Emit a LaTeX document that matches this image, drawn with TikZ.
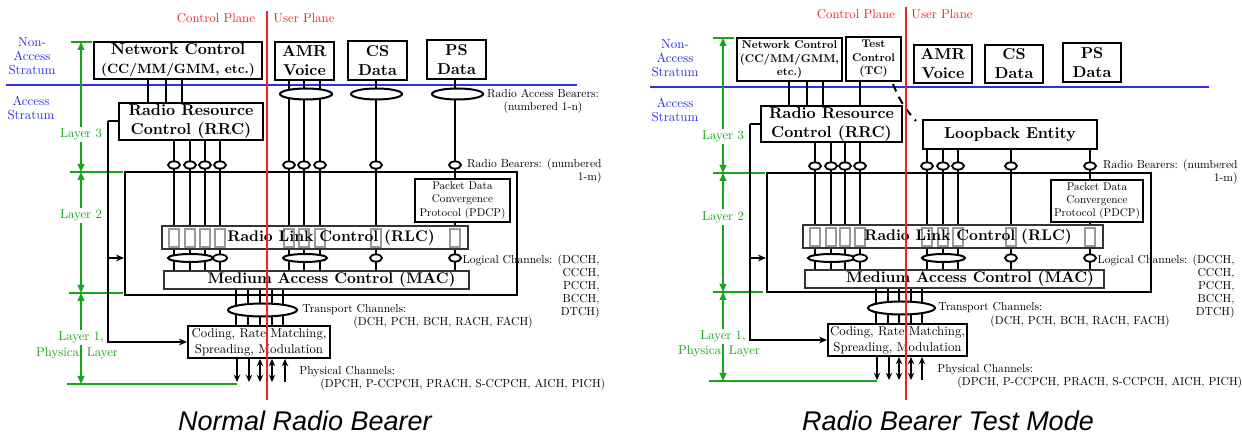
\documentclass[tikz,border=0pt]{standalone}
\usepackage{fontspec}
\setmainfont{lmroman10}[Extension=.otf, UprightFont=*-regular, BoldFont=*-bold,
  ItalicFont=*-italic, BoldItalicFont=*-bolditalic]
\newfontfamily\captionfont{Liberation Sans}
\usetikzlibrary{arrows.meta,shapes.geometric}
\definecolor{layergreen}{RGB}{25,165,25}
\definecolor{stratblue}{RGB}{45,45,235}
\definecolor{planered}{RGB}{235,35,35}
\newcommand{\fsz}[2]{\fontsize{#1}{#2}\selectfont}
\tikzset{
  blk/.style={draw, line width=1pt, fill=white, inner sep=0pt, align=center,
    font=\fsz{7.9}{9.5}\bfseries},
  tcblk/.style={blk, font=\fsz{5.6}{6.8}\bfseries},
  pdcpblk/.style={blk, font=\fsz{5.6}{6.7}},
  codblk/.style={blk, font=\fsz{6.4}{8}},
  sublyr/.style={draw=black!80, line width=0.6pt, fill=white, inner sep=0pt},
  sublbl/.style={inner sep=0pt, font=\fsz{7.7}{9}\bfseries},
  ent/.style={draw=black!40, line width=0.6pt, minimum width=5pt,
    minimum height=9pt, inner sep=0pt},
  chan/.style={line width=1pt},
  rab/.style={ellipse, draw, line width=1pt, fill=white, inner sep=0pt,
    minimum height=5.5pt},
  rbo/.style={ellipse, draw, line width=0.9pt, fill=white, inner sep=0pt,
    minimum width=6pt, minimum height=3.6pt},
  note/.style={inner sep=0pt, font=\fsz{5.8}{6.5}},
  strat/.style={text=stratblue, inner sep=0pt, align=center, font=\fsz{6.5}{7}},
  plane/.style={text=planered, inner sep=0pt, font=\fsz{6.4}{7}},
  lyr/.style={layergreen, line width=0.7pt},
  lyrarr/.style={lyr, {Triangle[length=4pt,width=3.4pt]}-{Triangle[length=4pt,width=3.4pt]}},
  lyrlbl/.style={text=layergreen, fill=white, inner sep=1pt, font=\fsz{6.4}{7.5}},
  lyrtxt/.style={text=layergreen, inner sep=0pt, font=\fsz{6.4}{7.5}},
  feed/.style={line width=1pt, -{Stealth[length=4pt,width=3.4pt]}},
  capt/.style={inner sep=0pt, font=\captionfont\itshape\fsz{13.5}{16}}
}

\begin{document}
\begin{tikzpicture}[x=0.5pt,y=-0.5pt,>={Stealth[length=3.6pt,width=3.2pt]}]
  \useasboundingbox (0,0) rectangle (1242,437);

  % ---------- Normal Radio Bearer ----------
  \draw[stratblue, line width=0.8pt] (6,85) -- (577,85);
  \node[strat] (nasL) at (32,56) {Non-\\Access\\Stratum};
  \node[strat] (asL) at (31,108) {Access\\Stratum};
  \node[plane] (cpL) at (216,18) {Control Plane};
  \node[plane] (upL) at (304,18) {User Plane};

  % layers
  \draw[lyr] (71,42) -- (92,42) (70,172) -- (123,172) (69,293) -- (123,293) (67,384) -- (237,384);
  \draw[lyrarr] (81,42) -- node[lyrlbl, pos=0.71] (lay3L) {Layer 3} (81,172);
  \draw[lyrarr] (81,172) -- node[lyrlbl, pos=0.36] (lay2L) {Layer 2} (81,293);
  \draw[lyrarr] (81,293) -- node[lyrlbl, pos=0.49] (lay1L) {Layer 1,} (81,384);
  \node[lyrtxt] (physL) at (77,353) {Physical Layer};

  % boxes
  \node[blk, minimum width=84pt, minimum height=18.5pt] (ncL) at (178,60.5) {Network Control\\\fsz{6.7}{9.5}\bfseries(CC/MM/GMM, etc.)};
  \node[blk, minimum width=29.5pt, minimum height=19pt] (amrL) at (304.5,61) {AMR\\Voice};
  \node[blk, minimum width=29.5pt, minimum height=19.5pt] (csL) at (377.5,60.5) {CS\\Data};
  \node[blk, minimum width=29.5pt, minimum height=19.5pt] (psL) at (456.5,59.5) {PS\\Data};
  \node[blk, minimum width=72pt, minimum height=18.5pt] (rrcL) at (191,121.5) {Radio Resource\\Control (RRC)};
  \node[blk, minimum width=196pt, minimum height=61.5pt] (l2L) at (321,233.5) {};
  \node[pdcpblk, minimum width=47.5pt, minimum height=21.5pt] (pdcpL) at (462.5,200.5) {Packet Data\\Convergence\\Protocol (PDCP)};
  \node[sublyr, minimum width=153pt, minimum height=11.5pt] (rlcL) at (315,237.5) {};
  \node[sublyr, minimum width=152.5pt, minimum height=9pt] (macL) at (316.5,280) {};
  \node[codblk, minimum width=71pt, minimum height=16pt] (codL) at (259,342) {Coding, Rate Matching,\\Spreading, Modulation};

  % channels
  \foreach \x in {148,166,182} \draw[chan] (ncL.south -| \x,0) -- (rrcL.north -| \x,0);
  \foreach \x in {174,190,205,220} \draw[chan] (rrcL.south -| \x,0) -- (rlcL.north -| \x,0);
  \foreach \x in {289,304,320} \draw[chan] (amrL.south -| \x,0) -- (rlcL.north -| \x,0);
  \draw[chan] (csL.south -| 376,0) -- (rlcL.north -| 376,0);
  \draw[chan] (psL.south -| 455,0) -- (pdcpL.north -| 455,0);
  \draw[chan] (pdcpL.south -| 455,0) -- (rlcL.north -| 455,0);
  \foreach \x in {174,190,205,220,289,304,320,376,455} \draw[chan] (rlcL.south -| \x,0) -- (macL.north -| \x,0);
  \foreach \x in {236,248,260,272,283} \draw[chan] (macL.south -| \x,0) -- (codL.north -| \x,0);

  % RLC entities
  \foreach \x in {174,190,205,220,289,304,320,376,455} \node[ent] (entL\x) at (\x,238) {};
  \node[sublbl] (rlcTxtL) at (331,237.5) {Radio Link Control (RLC)};
  \node[sublbl] (macTxtL) at (331.5,280) {Medium Access Control (MAC)};

  % bearers and channels
  \node[rab, minimum width=26pt] (rabAmrL) at (306,94) {};
  \node[rab, minimum width=25.5pt] (rabCsL) at (376.5,94) {};
  \node[rab, minimum width=25.5pt] (rabPsL) at (457.5,94) {};
  \foreach \x in {174,190,205,220,289,304,320,376,455} \node[rbo] (rbL\x) at (\x,165) {};
  \node[rab, minimum width=22.5pt, minimum height=4pt] (lgcL) at (190.5,258) {};
  \node[rbo, minimum width=7pt] (lgL220) at (220,258) {};
  \node[rab, minimum width=22pt, minimum height=4pt] (lguL) at (305,258) {};
  \node[rbo] (lgL376) at (376,258) {};
  \node[rbo] (lgL455) at (455,258) {};
  \node[rab, minimum width=34.5pt, minimum height=6.5pt] (trL) at (262.5,310) {};

  % control feed
  \draw[chan] (rrcL.west) -- ++(-10,0) coordinate (fdL);
  \draw[feed] (fdL) |- (codL.west);
  \draw[feed] (fdL |- 0,258) -- (l2L.west |- 0,258);

  % physical channels
  \coordinate (phyL) at (0,382);
  \draw[chan, ->] (codL.south -| 237,0) -- (phyL -| 237,0);
  \draw[chan, ->] (codL.south -| 249,0) -- (phyL -| 249,0);
  \draw[chan, <->] (codL.south -| 260,0) -- (phyL -| 260,0);
  \draw[chan, <->] (codL.south -| 272,0) -- (phyL -| 272,0);
  \draw[chan, <-] (codL.south -| 285,0) -- (phyL -| 285,0);

  % notes
  \node[note, align=center] (rabTxtL) at (543,101) {Radio Access Bearers:\\(numbered 1-n)};
  \node[note, align=right, anchor=east] (rbTxtL) at (602,171.5) {Radio Bearers: (numbered\\1-m)};
  \node[note, align=right, anchor=north east] (lchTxtL) at (600,254) {Logical Channels: (DCCH,\\CCCH,\\PCCH,\\BCCH,\\DTCH)};
  \node[note, anchor=west] (tchTxtL) at (302,310) {Transport Channels:};
  \node[note, anchor=west] (tchLstL) at (353,323) {(DCH, PCH, BCH, RACH, FACH)};
  \node[note, anchor=west] (phyTxtL) at (299,372) {Physical Channels:};
  \node[note, anchor=west] (phyLstL) at (320,385) {(DPCH, P-CCPCH, PRACH, S-CCPCH, AICH, PICH)};

  \draw[planered, line width=0.6pt] (267,11) -- (267,400);
  \node[capt] (capL) at (305,421) {Normal Radio Bearer};

  % ---------- Radio Bearer Test Mode ----------
  \draw[stratblue, line width=0.8pt] (650,87) -- (1209,87);
  \node[strat] (nasR) at (675,58) {Non-\\Access\\Stratum};
  \node[strat] (asR) at (675,110) {Access\\Stratum};
  \node[plane] (cpR) at (856,14) {Control Plane};
  \node[plane] (upR) at (942,14) {User Plane};

  % layers
  \draw[lyr] (713,38) -- (734,38) (713,173) -- (765,173) (713,292) -- (763,292) (709,381) -- (877,381);
  \draw[lyrarr] (723,38) -- node[lyrlbl, pos=0.73] (lay3R) {Layer 3} (723,173);
  \draw[lyrarr] (723,173) -- node[lyrlbl, pos=0.37] (lay2R) {Layer 2} (723,292);
  \draw[lyrarr] (723,292) -- node[lyrlbl, pos=0.5] (lay1R) {Layer 1,} (723,381);
  \node[lyrtxt] (physR) at (719,351) {Physical Layer};

  % boxes
  \node[tcblk, minimum width=52.5pt, minimum height=21.5pt] (ncR) at (789.5,59.5) {Network Control\\(CC/MM/GMM,\\etc.)};
  \node[tcblk, minimum width=27.5pt, minimum height=22pt] (tcR) at (873.5,59) {Test\\Control\\(TC)};
  \node[blk, minimum width=29pt, minimum height=19pt] (amrR) at (943,64) {AMR\\Voice};
  \node[blk, minimum width=29pt, minimum height=19pt] (csR) at (1014,64) {CS\\Data};
  \node[blk, minimum width=29pt, minimum height=19.5pt] (psR) at (1092,62.5) {PS\\Data};
  \node[blk, minimum width=70.5pt, minimum height=18pt] (rrcR) at (831.5,124) {Radio Resource\\Control (RRC)};
  \node[blk, minimum width=87pt, minimum height=14.5pt] (lbR) at (1010,134.5) {Loopback Entity};
  \node[blk, minimum width=192pt, minimum height=59.5pt] (l2R) at (959,232.5) {};
  \node[pdcpblk, minimum width=46pt, minimum height=21pt] (pdcpR) at (1097,201) {Packet Data\\Convergence\\Protocol (PDCP)};
  \node[sublyr, minimum width=150pt, minimum height=11.5pt] (rlcR) at (953,236.5) {};
  \node[sublyr, minimum width=149.5pt, minimum height=9pt] (macR) at (954.5,279) {};
  \node[codblk, minimum width=69.5pt, minimum height=16pt] (codR) at (897.5,340) {Coding, Rate Matching,\\Spreading, Modulation};

  % channels
  \foreach \x in {789,807,823} \draw[chan] (ncR.south -| \x,0) -- (rrcR.north -| \x,0);
  \draw[chan] (tcR.south -| 860,0) -- (rrcR.north -| 860,0);
  \draw[chan, dash pattern=on 4pt off 3pt] ([xshift=-4.5pt,yshift=-1pt]tcR.south east) to[bend right=10] ([xshift=-3pt,yshift=-1pt]lbR.north west);
  \foreach \x in {815,831,845,860} \draw[chan] (rrcR.south -| \x,0) -- (rlcR.north -| \x,0);
  \foreach \x in {927,943,958,1011} \draw[chan] (lbR.south -| \x,0) -- (rlcR.north -| \x,0);
  \draw[chan] (lbR.south -| 1090,0) -- (pdcpR.north -| 1090,0);
  \draw[chan] (pdcpR.south -| 1090,0) -- (rlcR.north -| 1090,0);
  \foreach \x in {815,831,845,860,927,943,958,1011,1090} \draw[chan] (rlcR.south -| \x,0) -- (macR.north -| \x,0);
  \foreach \x in {876,888,899,911,922} \draw[chan] (macR.south -| \x,0) -- (codR.north -| \x,0);

  % RLC entities
  \foreach \x in {815,831,845,860,927,943,958,1011,1090} \node[ent] (entR\x) at (\x,237) {};
  \node[sublbl] (rlcTxtR) at (968,236.5) {Radio Link Control (RLC)};
  \node[sublbl] (macTxtR) at (970,279) {Medium Access Control (MAC)};

  % bearers and channels
  \foreach \x in {815,831,845,860,927,943,958,1011,1090} \node[rbo] (rbR\x) at (\x,166) {};
  \node[rab, minimum width=23.5pt, minimum height=4pt] (lgcR) at (831.5,258) {};
  \node[rbo, minimum width=7pt] (lgR860) at (860,258) {};
  \node[rab, minimum width=21.5pt, minimum height=4pt] (lguR) at (943.5,258) {};
  \node[rbo] (lgR1011) at (1011,258) {};
  \node[rbo] (lgR1090) at (1090,258) {};
  \node[rab, minimum width=33.5pt, minimum height=6.5pt] (trR) at (901.5,308) {};

  % control feed
  \draw[chan] (rrcR.west) -- ++(-10,0) coordinate (fdR);
  \draw[feed] (fdR) |- (codR.west);
  \draw[feed] (fdR |- 0,258) -- (l2R.west |- 0,258);

  % physical channels
  \coordinate (phyR) at (0,380);
  \draw[chan, ->] (codR.south -| 877,0) -- (phyR -| 877,0);
  \draw[chan, ->] (codR.south -| 889,0) -- (phyR -| 889,0);
  \draw[chan, <->] (codR.south -| 899,0) -- (phyR -| 899,0);
  \draw[chan, <->] (codR.south -| 911,0) -- (phyR -| 911,0);
  \draw[chan, <-] (codR.south -| 922,0) -- (phyR -| 922,0);

  % notes
  \node[note, align=right, anchor=east] (rbTxtR) at (1238,172.5) {Radio Bearers: (numbered\\1-m)};
  \node[note, align=right, anchor=north east] (lchTxtR) at (1235,254) {Logical Channels: (DCCH,\\CCCH,\\PCCH,\\BCCH,\\DTCH)};
  \node[note, anchor=west] (tchTxtR) at (938,308) {Transport Channels:};
  \node[note, anchor=west] (tchLstR) at (990,322) {(DCH, PCH, BCH, RACH, FACH)};
  \node[note, anchor=west] (phyTxtR) at (937,370) {Physical Channels:};
  \node[note, anchor=west] (phyLstR) at (957,383) {(DPCH, P-CCPCH, PRACH, S-CCPCH, AICH, PICH)};

  \draw[planered, line width=0.6pt] (906,7) -- (906,400);
  \node[capt] (capR) at (948,421) {Radio Bearer Test Mode};
\end{tikzpicture}
\end{document}
